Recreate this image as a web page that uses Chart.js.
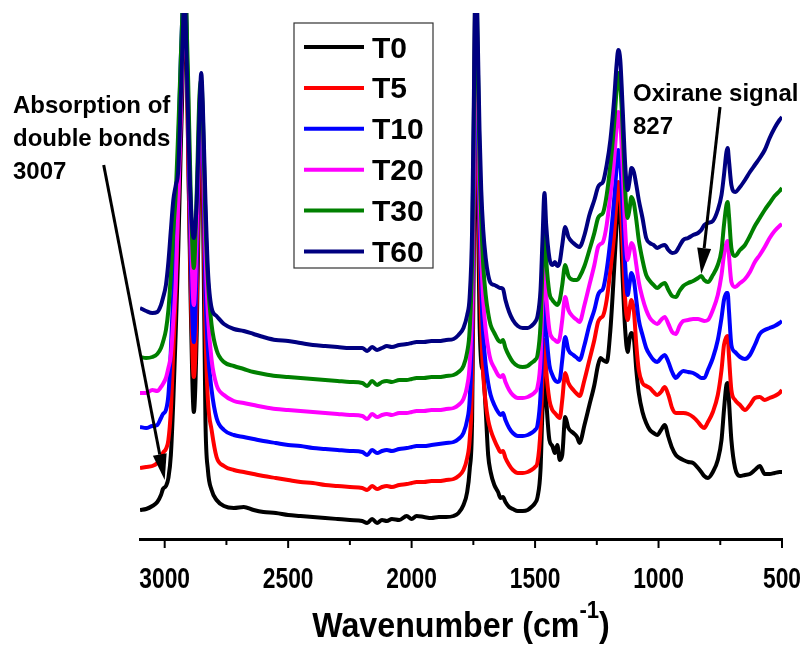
<!DOCTYPE html>
<html>
<head>
<meta charset="utf-8">
<title>FTIR spectra T0–T60</title>
<script src="https://cdn.jsdelivr.net/npm/chart.js@4.4.1/dist/chart.umd.min.js"></script>
<style>
  html, body { margin: 0; padding: 0; background: #ffffff; }
  #wrap { width: 809px; height: 646px; }
</style>
</head>
<body>
<div id="wrap"><canvas id="ftir" width="809" height="646"></canvas></div>
<script>
// Wavenumber grid (cm-1), shared by every spectrum
const wavenumbers = [
  3100, 3075, 3050, 3030, 3015, 3007, 2995, 2985, 2975, 2965,
  2955, 2945, 2935, 2925, 2920, 2915, 2905, 2895, 2882, 2870,
  2860, 2852, 2845, 2835, 2825, 2810, 2790, 2760, 2720, 2680,
  2640, 2600, 2550, 2500, 2450, 2400, 2350, 2300, 2250, 2200,
  2180, 2160, 2140, 2120, 2100, 2080, 2050, 2020, 2000, 1980,
  1950, 1920, 1890, 1860, 1830, 1810, 1790, 1775, 1765, 1755,
  1748, 1740, 1732, 1725, 1718, 1710, 1700, 1690, 1680, 1665,
  1650, 1640, 1630, 1620, 1605, 1590, 1570, 1550, 1530, 1515,
  1500, 1490, 1478, 1470, 1462, 1455, 1442, 1430, 1420, 1410,
  1400, 1390, 1378, 1365, 1345, 1330, 1320, 1300, 1280, 1260,
  1245, 1235, 1225, 1210, 1195, 1180, 1170, 1163, 1155, 1145,
  1135, 1125, 1118, 1110, 1100, 1090, 1080, 1065, 1050, 1035,
  1020, 1005, 990, 975, 960, 945, 930, 915, 900, 880,
  860, 840, 827, 815, 800, 780, 760, 745, 735, 725,
  720, 715, 705, 690, 670, 650, 630, 610, 590, 570,
  550, 530, 510, 500
];

// Offset absorbance traces (arbitrary units)
const absT0 = [
  29, 30, 33, 37, 44, 50, 53, 61, 84, 139,
  209, 289, 389, 489, 580, 560, 389, 239, 127, 209,
  359, 419, 339, 119, 69, 49, 39, 33, 31, 32,
  29, 27, 26, 24, 23, 22, 21, 20, 19, 18,
  16, 20, 16, 19, 18, 20, 19, 23, 20, 23,
  22, 21, 22, 22, 23, 26, 34, 47, 69, 119,
  289, 580, 339, 219, 176, 167, 129, 84, 67, 54,
  47, 41, 42, 37, 32, 30, 28, 28, 29, 32,
  36, 42, 69, 129, 164, 139, 99, 93, 86, 94,
  79, 84, 122, 111, 106, 102, 96, 114, 134, 154,
  174, 181, 179, 177, 209, 269, 314, 339, 324, 259,
  209, 187, 199, 206, 201, 169, 146, 127, 116, 109,
  106, 104, 109, 114, 102, 91, 84, 81, 79, 77,
  76, 71, 67, 63, 61, 67, 79, 99, 129, 154,
  156, 139, 99, 71, 63, 64, 65, 69, 73, 65,
  65, 66, 67, 67
];
const absT5 = [
  71, 72, 73, 76, 81, 86, 90, 99, 129, 189,
  249, 339, 439, 539, 580, 539, 389, 259, 162, 239,
  389, 439, 359, 209, 139, 109, 82, 73, 69, 67,
  65, 63, 61, 59, 57, 56, 54, 53, 52, 51,
  49, 53, 50, 52, 53, 52, 54, 55, 56, 57,
  57, 58, 58, 59, 60, 63, 69, 81, 99, 159,
  319, 580, 389, 279, 209, 164, 136, 119, 109, 99,
  91, 87, 88, 81, 74, 69, 66, 66, 67, 69,
  72, 77, 109, 159, 199, 169, 139, 129, 126, 123,
  121, 139, 166, 156, 149, 145, 143, 159, 179, 199,
  217, 221, 223, 239, 269, 304, 339, 357, 344, 294,
  239, 219, 229, 239, 229, 194, 169, 156, 153, 151,
  147, 144, 147, 152, 144, 131, 126, 126, 126, 125,
  122, 117, 113, 111, 117, 127, 144, 169, 194, 202,
  203, 184, 149, 139, 134, 129, 134, 141, 142, 139,
  141, 143, 146, 149
];
const absT10 = [
  112, 111, 113, 114, 121, 125, 129, 144, 189, 249,
  309, 389, 479, 549, 580, 549, 419, 289, 197, 279,
  419, 449, 389, 249, 189, 149, 121, 109, 104, 102,
  100, 98, 96, 94, 93, 91, 90, 89, 88, 87,
  84, 89, 86, 88, 89, 88, 90, 91, 92, 93,
  93, 94, 95, 96, 97, 100, 106, 119, 139, 209,
  359, 580, 419, 319, 249, 204, 174, 156, 144, 134,
  127, 124, 126, 119, 111, 106, 103, 103, 104, 106,
  109, 114, 144, 199, 239, 209, 174, 164, 159, 157,
  159, 179, 202, 189, 184, 181, 179, 194, 214, 229,
  244, 248, 250, 269, 299, 339, 371, 389, 377, 329,
  274, 244, 254, 266, 259, 239, 219, 204, 191, 184,
  179, 177, 181, 184, 177, 167, 161, 165, 168, 167,
  166, 163, 161, 161, 169, 181, 199, 221, 239, 246,
  246, 229, 194, 187, 182, 180, 184, 194, 205, 209,
  211, 213, 216, 218
];
const absT20 = [
  146, 146, 149, 148, 152, 155, 161, 171, 184, 219,
  259, 339, 419, 519, 580, 519, 439, 319, 234, 309,
  429, 454, 409, 289, 224, 179, 154, 144, 138, 136,
  134, 132, 130, 129, 128, 127, 126, 125, 124, 123,
  120, 125, 122, 124, 125, 124, 126, 126, 127, 128,
  128, 129, 129, 130, 131, 134, 140, 153, 174, 239,
  389, 580, 449, 349, 284, 239, 209, 191, 179, 171,
  164, 162, 164, 157, 149, 144, 141, 141, 142, 144,
  147, 152, 179, 239, 274, 244, 209, 201, 199, 197,
  201, 219, 242, 229, 222, 219, 217, 234, 254, 274,
  292, 295, 297, 314, 344, 379, 411, 427, 417, 369,
  309, 279, 287, 296, 291, 274, 257, 241, 229, 221,
  217, 215, 219, 222, 215, 207, 205, 213, 218, 219,
  220, 220, 219, 218, 219, 229, 244, 264, 284, 296,
  298, 284, 257, 252, 256, 260, 267, 277, 284, 292,
  301, 308, 313, 315
];
const absT30 = [
  182, 181, 182, 185, 191, 197, 209, 229, 264, 309,
  346, 409, 479, 549, 580, 549, 459, 349, 271, 349,
  439, 459, 419, 319, 259, 214, 189, 177, 173, 170,
  167, 165, 163, 162, 161, 160, 159, 158, 157, 156,
  153, 158, 154, 157, 158, 157, 159, 159, 160, 161,
  161, 162, 162, 163, 164, 167, 173, 187, 209, 279,
  419, 580, 479, 379, 319, 274, 244, 226, 214, 206,
  199, 197, 199, 191, 183, 177, 173, 172, 173, 176,
  179, 184, 214, 269, 309, 279, 246, 239, 236, 234,
  239, 254, 274, 263, 259, 259, 262, 273, 289, 306,
  321, 324, 326, 344, 374, 414, 449, 466, 454, 409,
  349, 321, 329, 342, 336, 319, 299, 279, 264, 258,
  254, 251, 254, 256, 249, 243, 242, 248, 253, 256,
  258, 261, 263, 259, 257, 264, 274, 289, 314, 334,
  337, 324, 291, 283, 289, 294, 303, 313, 321, 329,
  336, 343, 348, 351
];
const absT60 = [
  231, 228, 226, 227, 234, 241, 254, 277, 309, 339,
  354, 369, 439, 519, 580, 519, 419, 339, 301, 339,
  419, 466, 429, 339, 269, 231, 223, 215, 210, 208,
  205, 202, 199, 198, 196, 194, 193, 192, 191, 191,
  188, 192, 189, 191, 193, 192, 194, 195, 196, 197,
  197, 198, 198, 199, 200, 204, 211, 224, 242, 309,
  439, 580, 499, 409, 349, 309, 281, 264, 256, 254,
  252, 251, 250, 239, 227, 219, 213, 211, 211, 213,
  217, 223, 249, 299, 346, 314, 281, 274, 277, 273,
  277, 294, 312, 302, 296, 293, 292, 304, 324, 339,
  352, 355, 357, 374, 399, 439, 474, 489, 479, 429,
  374, 349, 357, 371, 367, 354, 339, 321, 301, 296,
  294, 291, 293, 294, 289, 286, 287, 293, 299, 301,
  304, 306, 309, 314, 316, 318, 329, 344, 364, 387,
  391, 379, 354, 347, 352, 359, 367, 374, 381, 389,
  401, 411, 419, 422
];

const seriesLabels = ['T0', 'T5', 'T10', 'T20', 'T30', 'T60'];
const seriesValues = [absT0, absT5, absT10, absT20, absT30, absT60];
const seriesColors = ['#000000', '#ff0000', '#0000ff', '#ff00ff', '#008000', '#000080'];

// Axis ticks (cm-1): labelled every 500, minor marks every 250
const tickMarks = [3000, 2750, 2500, 2250, 2000, 1750, 1500, 1250, 1000, 750, 500];
const labelledTicks = [3000, 2500, 2000, 1500, 1000, 500];

// Annotations: arrow tail / tip in (wavenumber, absorbance) coordinates
const annotations = [
  { lines: ['Absorption of', 'double bonds', '3007'], textX: 13, baseY: 113,
    from: [3247, 374], to: [3000, 59] },
  { lines: ['Oxirane signal', '827'], textX: 633, baseY: 101,
    from: [751, 432], to: [827, 265] }
];

const SANS = '"Liberation Sans", Arial, Helvetica, sans-serif';

function drawArrow(ctx, x1, y1, x2, y2, headLen, headHalf) {
  const a = Math.atan2(y2 - y1, x2 - x1);
  const bx = x2 - headLen * Math.cos(a);
  const by = y2 - headLen * Math.sin(a);
  ctx.beginPath();
  ctx.moveTo(x1, y1);
  ctx.lineTo(bx, by);
  ctx.stroke();
  ctx.beginPath();
  ctx.moveTo(x2, y2);
  ctx.lineTo(bx + headHalf * Math.sin(a), by - headHalf * Math.cos(a));
  ctx.lineTo(bx - headHalf * Math.sin(a), by + headHalf * Math.cos(a));
  ctx.closePath();
  ctx.fill();
}

// Draws text squeezed horizontally (condensed bold face), anchored by its centre
function condensedText(ctx, text, cx, baseY, squeeze) {
  const w = ctx.measureText(text).width * squeeze;
  ctx.save();
  ctx.translate(cx - w / 2, baseY);
  ctx.scale(squeeze, 1);
  ctx.fillText(text, 0, 0);
  ctx.restore();
  return w;
}

// Tick marks and labels under the wavenumber axis
const wavenumberAxisPlugin = {
  id: 'wavenumberAxisPlugin',
  afterDraw(chart) {
    const xs = chart.scales.x;
    const ctx = chart.ctx;
    const y0 = chart.chartArea.bottom;
    ctx.save();
    ctx.strokeStyle = '#000';
    ctx.fillStyle = '#000';
    ctx.lineWidth = 2;
    ctx.font = `bold 30px ${SANS}`;
    ctx.textAlign = 'left';
    ctx.textBaseline = 'alphabetic';
    tickMarks.forEach(v => {
      const px = xs.getPixelForValue(v);
      const major = labelledTicks.includes(v);
      ctx.beginPath();
      ctx.moveTo(px, y0);
      ctx.lineTo(px, y0 + (major ? 9 : 6));
      ctx.stroke();
      if (major) condensedText(ctx, String(v), px, y0 + 49, 0.76);
    });
    ctx.restore();
  }
};

// Axis title with superscript
const axisTitlePlugin = {
  id: 'axisTitlePlugin',
  afterDraw(chart) {
    const ctx = chart.ctx;
    const ca = chart.chartArea;
    const cx = (ca.left + ca.right) / 2;
    const base = ca.bottom + 98;
    const squeeze = 0.92;
    const mainFont = `bold 35px ${SANS}`;
    const supFont = `bold 24px ${SANS}`;
    const t1 = 'Wavenumber (cm', sup = '-1', t3 = ')';
    ctx.save();
    ctx.fillStyle = '#000';
    ctx.textBaseline = 'alphabetic';
    ctx.textAlign = 'left';
    ctx.font = mainFont;
    const w1 = ctx.measureText(t1).width;
    const w3 = ctx.measureText(t3).width;
    ctx.font = supFont;
    const ws = ctx.measureText(sup).width;
    const total = (w1 + ws + w3) * squeeze;
    ctx.translate(cx - total / 2, base);
    ctx.scale(squeeze, 1);
    ctx.font = mainFont;
    ctx.fillText(t1, 0, 0);
    ctx.font = supFont;
    ctx.fillText(sup, w1, -19);
    ctx.font = mainFont;
    ctx.fillText(t3, w1 + ws, 0);
    ctx.restore();
  }
};

// Text labels with arrows pointing at the bands
const annotationPlugin = {
  id: 'annotationPlugin',
  afterDraw(chart) {
    const ctx = chart.ctx;
    const xs = chart.scales.x, ys = chart.scales.y;
    ctx.save();
    ctx.fillStyle = '#000';
    ctx.strokeStyle = '#000';
    ctx.lineWidth = 3;
    ctx.font = `bold 24px ${SANS}`;
    ctx.textAlign = 'left';
    ctx.textBaseline = 'alphabetic';
    annotations.forEach(a => {
      a.lines.forEach((t, i) => ctx.fillText(t, a.textX, a.baseY + i * 33));
      drawArrow(ctx,
        xs.getPixelForValue(a.from[0]), ys.getPixelForValue(a.from[1]),
        xs.getPixelForValue(a.to[0]), ys.getPixelForValue(a.to[1]),
        26, 7);
    });
    ctx.restore();
  }
};

// Boxed legend inside the plot
const boxLegendPlugin = {
  id: 'boxLegendPlugin',
  afterDraw(chart) {
    const ctx = chart.ctx;
    const box = { left: 294, top: 23, width: 139, height: 245 };
    const rowTop = 47, rowGap = 40.9;
    ctx.save();
    ctx.fillStyle = '#ffffff';
    ctx.fillRect(box.left, box.top, box.width, box.height);
    ctx.strokeStyle = '#333333';
    ctx.lineWidth = 1.2;
    ctx.strokeRect(box.left, box.top, box.width, box.height);
    ctx.font = `bold 30px ${SANS}`;
    ctx.textAlign = 'left';
    ctx.textBaseline = 'alphabetic';
    chart.data.datasets.forEach((ds, i) => {
      const cy = rowTop + i * rowGap;
      ctx.strokeStyle = ds.borderColor;
      ctx.lineWidth = 4;
      ctx.beginPath();
      ctx.moveTo(box.left + 10, cy);
      ctx.lineTo(box.left + 70, cy);
      ctx.stroke();
      ctx.fillStyle = '#000';
      ctx.fillText(ds.label, box.left + 78, cy + 10.5);
    });
    ctx.restore();
  }
};

const datasets = seriesLabels.map((label, i) => ({
  label,
  data: wavenumbers.map((w, j) => ({ x: w, y: seriesValues[i][j] })),
  borderColor: seriesColors[i],
  backgroundColor: seriesColors[i],
  borderWidth: 4,
  pointRadius: 0,
  fill: false,
  tension: 0,
  cubicInterpolationMode: 'monotone',
  borderJoinStyle: 'round',
  clip: 0,
  order: seriesLabels.length - 1 - i   // later samples drawn on top
}));

new Chart(document.getElementById('ftir'), {
  type: 'line',
  data: { datasets },
  options: {
    responsive: false,
    animation: false,
    devicePixelRatio: 1,
    layout: { padding: { left: 140, right: 27, top: 13, bottom: 0 } },
    plugins: { legend: { display: false }, tooltip: { enabled: false } },
    scales: {
      x: {
        type: 'linear',
        reverse: true,
        min: 500,
        max: 3100,
        afterBuildTicks: scale => { scale.ticks = tickMarks.map(v => ({ value: v })); },
        afterFit: scale => {
          scale.height = 107;
          scale.paddingLeft = 0;
          scale.paddingRight = 0;
        },
        grid: { display: false },
        border: { display: true, color: '#000', width: 3 },
        ticks: { display: false }
      },
      y: { display: false, min: 0, max: 526 }
    }
  },
  plugins: [wavenumberAxisPlugin, axisTitlePlugin, annotationPlugin, boxLegendPlugin]
});
</script>
</body>
</html>
